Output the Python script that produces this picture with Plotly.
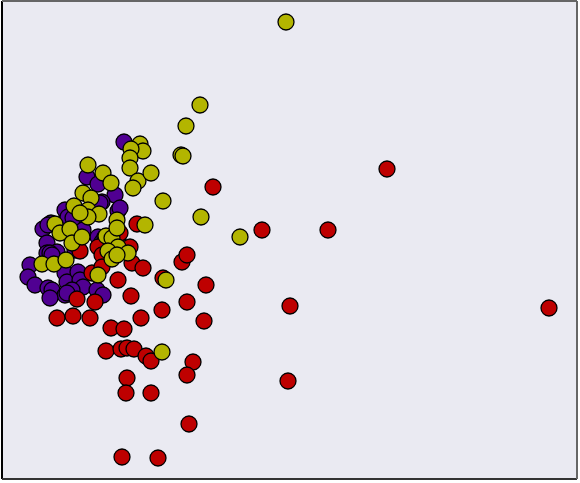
import plotly.graph_objects as go

# points (x right, y down, picture frame units)
purple_x = [124, 87, 98, 115, 102, 118, 67, 65, 43, 51, 48, 68, 83, 100,
            47, 47, 30, 28, 35, 48, 52, 65, 67, 78, 80, 83, 97, 103, 72, 65,
            98, 102, 75, 57, 50, 120, 73, 50, 67, 52, 105]
purple_y = [142, 177, 184, 195, 202, 211, 217, 210, 229, 223, 225, 217, 230, 203,
            243, 253, 265, 277, 285, 288, 290, 273, 282, 272, 280, 287, 290, 295, 290, 295,
            237, 242, 250, 252, 253, 208, 218, 298, 293, 255, 237]

yellow_x = [286, 200, 186, 181, 183, 140, 143, 131, 130, 130, 138, 133, 151, 163,
            88, 103, 111, 83, 91, 74, 88, 99, 88, 117, 145, 80, 55, 60, 70, 72,
            82, 106, 112, 118, 108, 128, 112, 42, 54, 66, 98, 166, 201, 240, 162,
            117, 117]
yellow_y = [22, 105, 126, 155, 156, 144, 151, 149, 158, 168, 181, 188, 173, 201,
            165, 173, 183, 193, 198, 206, 210, 214, 217, 220, 225, 213, 224, 233, 229, 243,
            237, 236, 238, 247, 251, 253, 259, 264, 264, 260, 275, 280, 217, 237, 352,
            228, 255]

red_x = [213, 262, 328, 387, 290, 288, 549, 137, 80, 98, 102, 118, 130, 132,
         143, 118, 92, 102, 77, 95, 131, 182, 187, 163, 206, 187, 162, 141, 204,
         57, 73, 90, 111, 124, 106, 121, 127, 134, 146, 151, 193, 187, 127, 126,
         151, 189, 122, 158, 120]
red_y = [187, 230, 230, 169, 306, 381, 308, 224, 251, 247, 255, 237, 247, 263,
         268, 280, 273, 267, 299, 302, 296, 262, 255, 278, 285, 302, 310, 318, 321,
         318, 316, 318, 328, 329, 351, 349, 348, 349, 356, 361, 362, 375, 378, 393,
         393, 424, 457, 458, 233]

groups = [
    (purple_x, purple_y, "#500092"),
    (red_x, red_y, "#BE0000"),
    (yellow_x, yellow_y, "#B3B500"),
]

fig = go.Figure()
for xs, ys, color in groups:
    fig.add_trace(go.Scatter(
        x=xs, y=ys, mode="markers",
        marker=dict(size=16, color=color, line=dict(color="black", width=1.3)),
        showlegend=False,
        hoverinfo="skip",
    ))

fig.update_xaxes(range=[2, 577], showgrid=False, zeroline=False,
                 showticklabels=False, ticks="")
fig.update_yaxes(range=[479, 1], showgrid=False, zeroline=False,
                 showticklabels=False, ticks="")

# frame: dark left/bottom, grey top/right
fig.add_shape(type="line", xref="paper", yref="paper", x0=0, x1=0, y0=0, y1=1,
              line=dict(color="black", width=2))
fig.add_shape(type="line", xref="paper", yref="paper", x0=0, x1=1, y0=0, y1=0,
              line=dict(color="#333333", width=2))
fig.add_shape(type="line", xref="paper", yref="paper", x0=0, x1=1, y0=1, y1=1,
              line=dict(color="#666666", width=2))
fig.add_shape(type="line", xref="paper", yref="paper", x0=1, x1=1, y0=0, y1=1,
              line=dict(color="#666666", width=2))

fig.update_layout(
    width=580, height=483,
    margin=dict(l=2, r=3, t=1, b=4),
    plot_bgcolor="#EAEAF2",
    paper_bgcolor="white",
)

# the page body has a default margin; drop it so the figure sits at 0,0
fig.write_html("out.html", config={"displayModeBar": False},
               post_script="document.body.style.margin='0';")
